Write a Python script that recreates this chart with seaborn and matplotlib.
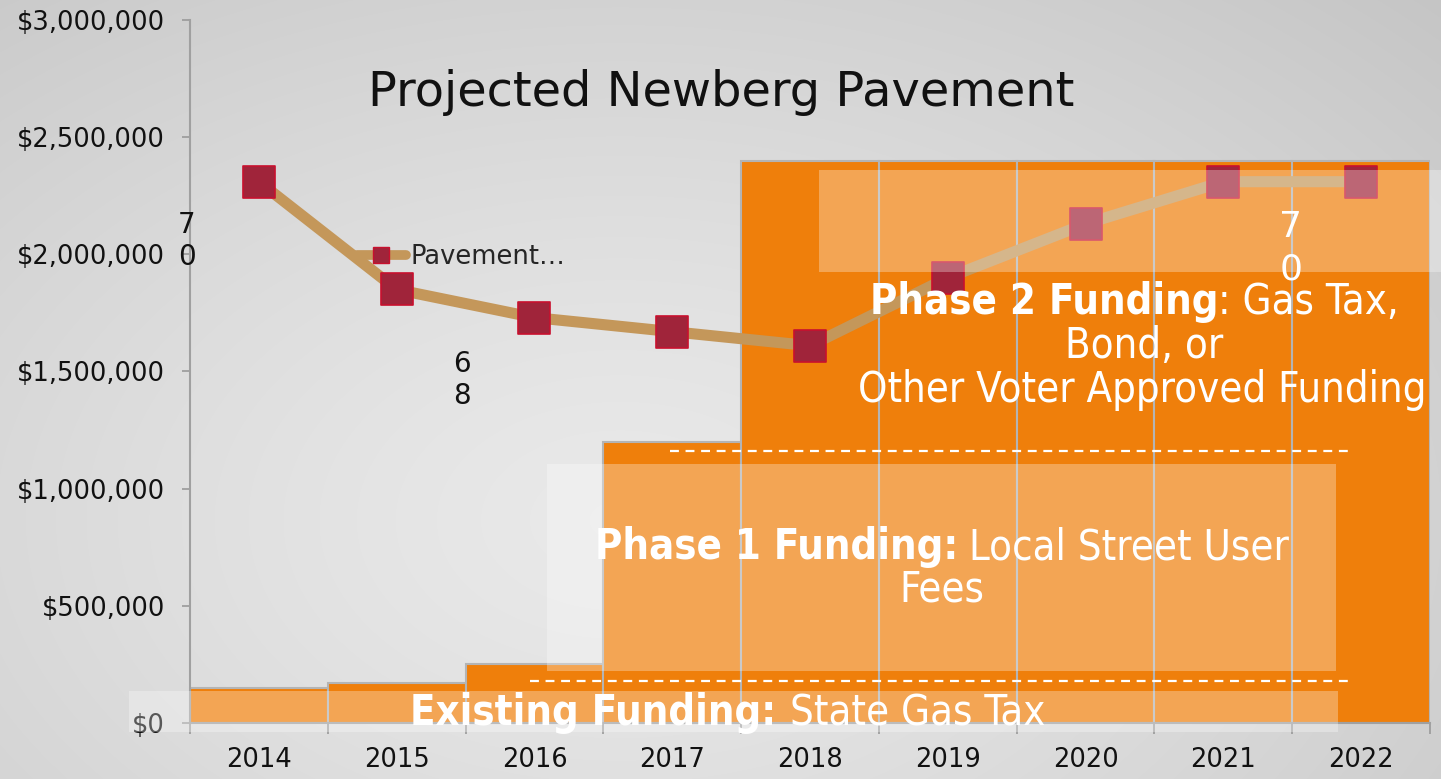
import numpy as np
import pandas as pd
import matplotlib
matplotlib.use("Agg")
import matplotlib.pyplot as plt
import seaborn as sns
from matplotlib.patches import Rectangle
from matplotlib.lines import Line2D
from matplotlib.ticker import FuncFormatter, FixedLocator

# ---- data ----
years = ["2014", "2015", "2016", "2017", "2018", "2019", "2020", "2021", "2022"]
funding = [150000, 170000, 250000, 1200000, 2400000, 2400000, 2400000, 2400000, 2400000]
pavement = [2310000, 1850000, 1730000, 1670000, 1610000, 1900000, 2130000, 2310000, 2310000]
y_ticks = [0, 500000, 1000000, 1500000, 2000000, 2500000, 3000000]
title = "Projected Newberg Pavement"
legend_label = "Pavement…"

ORANGE = "#EF7F0B"
TAN = "#C4975A"
MARKER = "#A0243A"
MARKER_EDGE = "#C8102E"

sns.set_style("white")
plt.rcParams["font.family"] = ["DejaVu Sans"]

W, H = 1441, 779
fig = plt.figure(figsize=(W / 100, H / 100), dpi=100)

# background gradient
bg = fig.add_axes([0, 0, 1, 1], zorder=-10)
yy, xx = np.mgrid[0:H, 0:W]
d = np.sqrt(((xx - 620) / W) ** 2 + ((yy - 520) / H) ** 2 * 0.7)
val = 0.915 - 0.19 * d ** 1.3
bg.imshow(np.dstack([val, val, val]).clip(0, 1), aspect="auto", extent=[0, 1, 0, 1])
bg.axis("off")

ax = fig.add_axes([190 / W, 1 - 723 / H, (1430 - 190) / W, (723 - 20) / H])
ax.patch.set_alpha(0)

df = pd.DataFrame({"year": years, "funding": funding, "pavement": pavement})
sns.barplot(data=df, x="year", y="funding", color=ORANGE, width=1.0, saturation=1,
            edgecolor="#B4B4B4", linewidth=1.5, ax=ax, zorder=2)

pos = np.arange(len(years))
sns.lineplot(x=pos, y=pavement, color=TAN, linewidth=8, ax=ax, zorder=3,
             solid_capstyle="round")
sns.scatterplot(x=pos, y=pavement, marker="s", s=540, color=MARKER,
                edgecolor=MARKER_EDGE, linewidth=1.2, ax=ax, zorder=4)

ax.set_xlim(-0.5, len(years) - 0.5)
ax.set_ylim(0, 3000000)
ax.set_xlabel("")
ax.set_ylabel("")
ax.set_yticks(y_ticks)
ax.yaxis.set_major_formatter(FuncFormatter(lambda v, p: f"${v:,.0f}"))
ax.tick_params(axis="y", labelsize=18.5, colors="#999999", labelcolor="#111111",
               length=6, width=1.2, direction="out", left=True, pad=12)
# x: major ticks at boundaries, labels at centers
ax.xaxis.set_major_locator(FixedLocator(np.arange(len(years) + 1) - 0.5))
ax.set_xticklabels([""] * (len(years) + 1))
ax.xaxis.set_minor_locator(FixedLocator(pos))
ax.set_xticklabels(years, minor=True)
ax.tick_params(axis="x", which="major", length=8, width=1.2, colors="#999999",
               direction="out", bottom=True)
ax.tick_params(axis="x", which="minor", length=0, labelsize=18.5, labelcolor="#111111",
               pad=17)
for s in ["top", "right"]:
    ax.spines[s].set_visible(False)
for s in ["left", "bottom"]:
    ax.spines[s].set_color("#A0A0A0")
    ax.spines[s].set_linewidth(1.5)
ax.grid(False)

# legend
h = Line2D([0], [0], color=TAN, linewidth=7, marker="s", markersize=12,
           markerfacecolor=MARKER, markeredgecolor=MARKER_EDGE, solid_capstyle="round")
leg = ax.legend([h], [legend_label], loc="center left",
                bbox_to_anchor=((357 - 190) / (1430 - 190), (723 - 257) / 703),
                frameon=False, fontsize=18.5, handlelength=1.9, handletextpad=0.2,
                borderaxespad=0, borderpad=0)

# overlays (figure pixel coords -> fraction)
def fx(x):
    return x / W

def fy(y):
    return 1 - y / H

def box(x0, y0, x1, y1, z=6):
    r = Rectangle((fx(x0), fy(y1)), fx(x1) - fx(x0), fy(y0) - fy(y1),
                  transform=fig.transFigure, facecolor="white", alpha=0.3,
                  edgecolor="none", zorder=z)
    fig.add_artist(r)

box(819, 170, 1445, 272)
box(547, 464, 1336, 671)
box(129, 691, 1338, 732)

for y, x0, x1 in [(451, 670, 1350), (681, 530, 1350)]:
    fig.add_artist(Line2D([fx(x0), fx(x1)], [fy(y), fy(y)], transform=fig.transFigure,
                          color="white", linewidth=1.6, linestyle=(0, (4, 3)), zorder=7))

# texts
fig.text(fx(721), fy(92), title, ha="center", va="center", fontsize=34.5, color="#111111",
         zorder=8)

TK = dict(fontsize=30, color="white", zorder=8, va="center", fontstretch="condensed")
fig.text(fx(1218), fy(302), "Phase 2 Funding", ha="right", fontweight="bold", **TK)
fig.text(fx(1218), fy(302), ": Gas Tax,", ha="left", **TK)
fig.text(fx(1144), fy(346), "Bond, or", ha="center", **TK)
fig.text(fx(1142), fy(390), "Other Voter Approved Funding", ha="center", **TK)

fig.text(fx(958), fy(547), "Phase 1 Funding:", ha="right", fontweight="bold", **TK)
fig.text(fx(969), fy(547), "Local Street User", ha="left", **TK)
fig.text(fx(942), fy(590), "Fees", ha="center", **TK)

fig.text(fx(776), fy(713), "Existing Funding:", ha="right", fontweight="bold", **TK)
fig.text(fx(790), fy(713), "State Gas Tax", ha="left", **TK)

# stray wrapped data labels
fig.text(fx(187), fy(241), "7\n0", color="#111111", fontsize=20, ha="center",
         va="center", zorder=8, linespacing=1.2)
fig.text(fx(462), fy(380), "6\n8", color="#111111", fontsize=20, ha="center",
         va="center", zorder=8, linespacing=1.2)
fig.text(fx(1291), fy(248), "7\n0", color="white", fontsize=26, ha="center",
         va="center", zorder=8, linespacing=1.3)

fig.savefig("out.png", dpi=100)
